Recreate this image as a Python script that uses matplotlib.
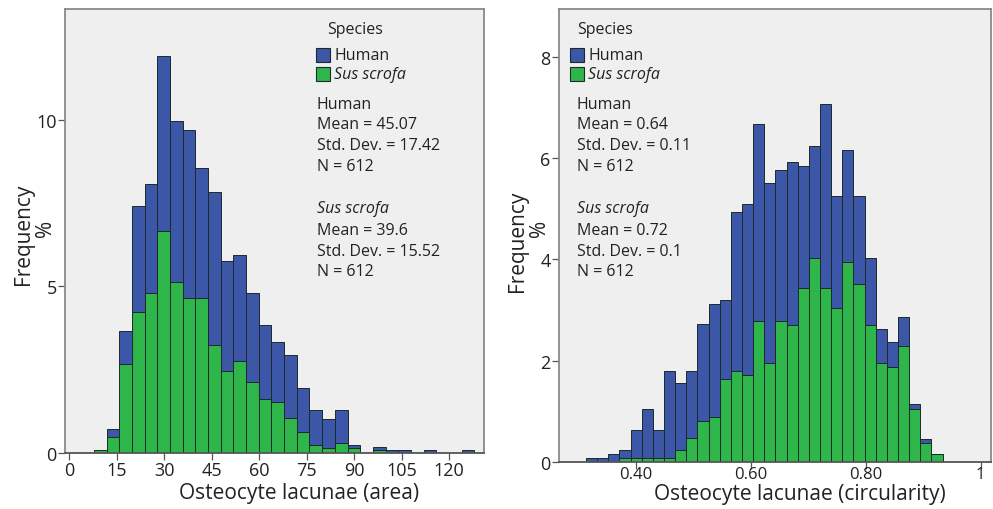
import matplotlib.pyplot as plt
import numpy as np

plt.rcParams['font.family'] = ['Open Sans', 'DejaVu Sans']

W, H = 993, 510

# left panel: lacuna area, bins of width 4 starting at 7.9 (percent of all 1224 lacunae)
area_start = 7.9
area_width = 4.0
area_sus = [0.08, 0.47, 2.67, 4.22, 4.80, 6.68, 5.13, 4.65, 4.65, 3.25,
            2.45, 2.77, 2.12, 1.62, 1.54, 1.05, 0.62, 0.23, 0.15, 0.30,
            0.15, 0, 0.08, 0, 0, 0, 0, 0, 0, 0]
area_human = [0, 0.25, 1.00, 3.21, 3.28, 5.25, 4.83, 5.06, 3.92, 4.58,
              3.30, 3.18, 2.68, 2.22, 1.80, 1.89, 1.33, 1.07, 0.87, 1.00,
              0.08, 0, 0.09, 0.08, 0.08, 0, 0.08, 0, 0, 0.08]
area_xticks = [0, 15, 30, 45, 60, 75, 90, 105, 120]
area_yticks = [0, 5, 10]

# right panel: circularity
circ_start = 0.313
circ_width = 0.0194
circ_sus = [0, 0, 0, 0.08, 0.08, 0.08, 0.08, 0.08, 0.23, 0.48,
            0.81, 0.89, 1.63, 1.80, 1.71, 2.78, 1.96, 2.78, 2.70, 3.44,
            4.02, 3.44, 3.03, 3.94, 3.52, 2.70, 1.96, 1.88, 2.29, 1.05,
            0.38, 0.15]
circ_human = [0.08, 0.08, 0.16, 0.15, 0.55, 0.97, 0.55, 1.72, 1.32, 1.32,
              1.91, 2.22, 1.57, 3.14, 3.39, 3.89, 3.54, 2.98, 3.22, 2.41,
              2.22, 3.63, 2.22, 2.22, 1.73, 1.32, 0.66, 0.49, 0.57, 0.09,
              0.08, 0]
circ_xticks = [0.40, 0.60, 0.80, 1.0]
circ_xticklabels = ['0.40', '0.60', '0.80', '1']
circ_yticks = [0, 2, 4, 6, 8]

area_stats = [('Human', ['Mean = 45.07', 'Std. Dev. = 17.42', 'N = 612']),
              ('Sus scrofa', ['Mean = 39.6', 'Std. Dev. = 15.52', 'N = 612'])]
circ_stats = [('Human', ['Mean = 0.64', 'Std. Dev. = 0.11', 'N = 612']),
              ('Sus scrofa', ['Mean = 0.72', 'Std. Dev. = 0.1', 'N = 612'])]

BLUE = '#3c56a8'
GREEN = '#2fb64a'
EDGE = '#1c2a2a'
BG = '#efefef'
FRAME = '#8a8a8a'
TXT = '#222222'


def fx(x):
    return x / W


def fy(y):
    return 1 - y / H


def draw_hist(ax, start, width, sus, human):
    n = len(sus)
    left = start + width * np.arange(n)
    sus = np.array(sus)
    human = np.array(human)
    ax.bar(left, sus, width=width, align='edge', color=GREEN,
           edgecolor=EDGE, linewidth=0.7)
    ax.bar(left, human, width=width, bottom=sus, align='edge', color=BLUE,
           edgecolor=EDGE, linewidth=0.7)


def style_axes(ax):
    ax.set_facecolor(BG)
    for s in ax.spines.values():
        s.set_color(FRAME)
        s.set_linewidth(1.3)
    ax.spines['bottom'].set_color('#555555')
    ax.tick_params(length=5, width=0.9, color='#555555', labelsize=13,
                   labelcolor=TXT, pad=1)


def draw_text(x0, stats, legend_x, species_x):
    fig.text(fx(species_x), fy(30), 'Species', fontsize=11.5, va='center',
             color=TXT)
    for i, (lab, col) in enumerate([('Human', BLUE), ('Sus scrofa', GREEN)]):
        yc = 56 + 19 * i
        fig.patches.append(plt.Rectangle((fx(legend_x), fy(yc + 7)), 14 / W, 14 / H,
                                         transform=fig.transFigure,
                                         facecolor=col, edgecolor=EDGE, lw=0.8))
        fig.text(fx(legend_x + 18), fy(yc), lab, fontsize=11.5, va='center',
                 color=TXT, style='italic' if i == 1 else 'normal')
    ys = [[105, 125, 146, 167], [209, 231, 252, 272]]
    for (name, lines), yy in zip(stats, ys):
        fig.text(fx(x0), fy(yy[0]), name, fontsize=11.5, va='center',
                 color=TXT, style='italic' if name != 'Human' else 'normal')
        for line, y in zip(lines, yy[1:]):
            fig.text(fx(x0), fy(y), line, fontsize=11.5, va='center',
                     color=TXT)


fig = plt.figure(figsize=(W / 100, H / 100), dpi=100)

# left
ax1 = fig.add_axes([fx(65), fy(454), (484 - 65) / W, (454 - 10) / H])
draw_hist(ax1, area_start, area_width, area_sus, area_human)
style_axes(ax1)
ax1.set_xlim(-1.3, 131)
ax1.set_ylim(0, 13.33)
ax1.set_xticks(area_xticks)
ax1.set_yticks(area_yticks)
fig.text(fx(299), fy(494), 'Osteocyte lacunae (area)', fontsize=15,
         ha='center', va='center', color=TXT)
fig.text(fx(23), fy(234), 'Frequency', fontsize=15, rotation=90,
         ha='center', va='center', color=TXT)
fig.text(fx(45), fy(228), '%', fontsize=15, rotation=90,
         ha='center', va='center', color=TXT)
draw_text(317, area_stats, 316, 327)

# right
ax2 = fig.add_axes([fx(559), fy(463), (991 - 559) / W, (463 - 10) / H])
draw_hist(ax2, circ_start, circ_width, circ_sus, circ_human)
style_axes(ax2)
ax2.tick_params(axis='x', labelsize=12, pad=-2)
ax2.set_xlim(0.266, 1.018)
ax2.set_ylim(0, 8.94)
ax2.set_xticks(circ_xticks)
ax2.set_xticklabels(circ_xticklabels)
ax2.set_yticks(circ_yticks)
fig.text(fx(800), fy(495), 'Osteocyte lacunae (circularity)', fontsize=15,
         ha='center', va='center', color=TXT)
fig.text(fx(517), fy(241), 'Frequency', fontsize=15, rotation=90,
         ha='center', va='center', color=TXT)
fig.text(fx(540), fy(228), '%', fontsize=15, rotation=90,
         ha='center', va='center', color=TXT)
draw_text(577, circ_stats, 570, 577)

fig.savefig('out.png', dpi=100)
